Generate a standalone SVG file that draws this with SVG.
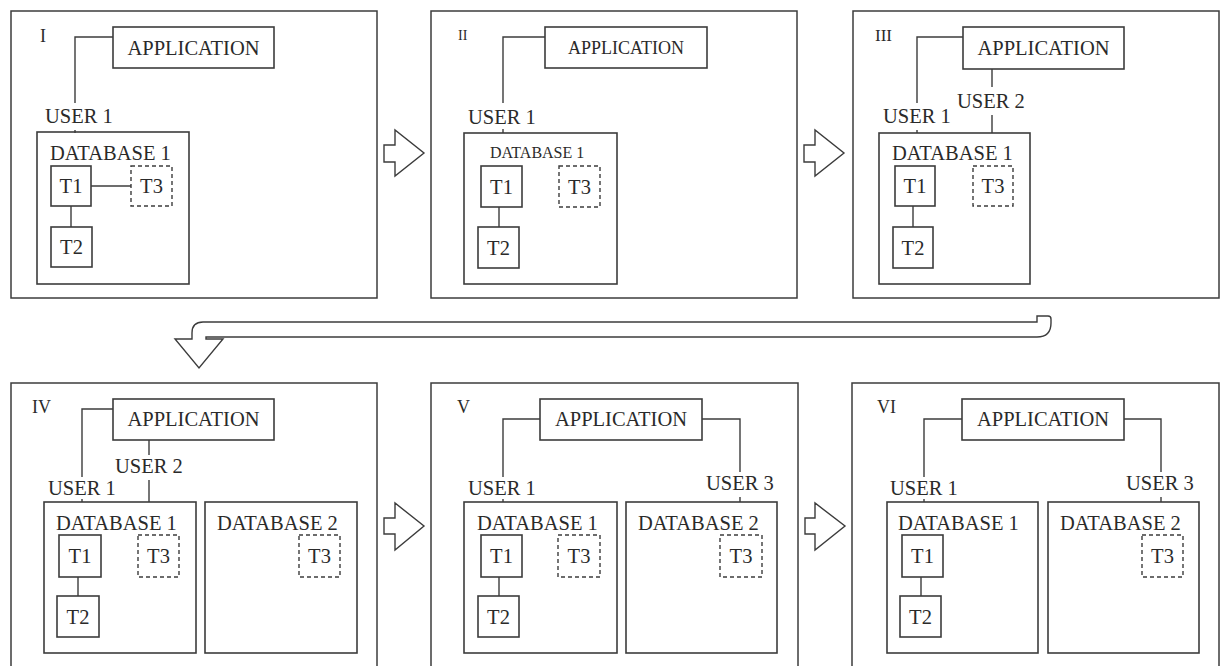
<svg xmlns="http://www.w3.org/2000/svg" width="1224" height="666" viewBox="0 0 1224 666">
  <style>
    .frame { fill: #fff; stroke: #3c3c3c; stroke-width: 1.5; }
    .box { fill: #fff; stroke: #3c3c3c; stroke-width: 1.6; }
    .dash { fill: #fff; stroke: #3c3c3c; stroke-width: 1.4; stroke-dasharray: 4 3; }
    .wire { fill: none; stroke: #3c3c3c; stroke-width: 1.4; }
    .arrow { fill: #fff; stroke: #3c3c3c; stroke-width: 1.4; stroke-linejoin: miter; }
    text { font-family: "Liberation Serif", "Times New Roman", serif; fill: #2a2a2a; font-size: 20.5px; }
    .num { font-size: 18px; }
    .mid { text-anchor: middle; }
  </style>
  <rect width="1224" height="666" fill="#fff"/>

  <!-- Stage I -->
  <g id="stage-1">
    <rect class="frame" x="11" y="11" width="366" height="287"/>
    <text class="num" x="40" y="42">I</text>
    <rect class="box" x="113" y="27" width="161" height="41"/>
    <text class="mid" x="193.5" y="55">APPLICATION</text>
    <text x="45" y="123">USER 1</text>
    <rect class="box" x="37" y="132" width="152" height="152"/>
    <text x="50" y="160">DATABASE 1</text>
    <rect class="box" x="51" y="166" width="40" height="40"/>
    <text class="mid" x="71" y="193">T1</text>
    <rect class="dash" x="131" y="166" width="41" height="40"/>
    <text class="mid" x="151.5" y="193">T3</text>
    <rect class="box" x="51" y="227" width="41" height="40"/>
    <text class="mid" x="71.5" y="254">T2</text>
  </g>

  <!-- Stage II -->
  <g id="stage-2">
    <rect class="frame" x="431" y="11" width="366" height="287"/>
    <text x="458" y="40" style="font-size:14px">II</text>
    <rect class="box" x="545" y="27" width="162" height="41"/>
    <text class="mid" x="626" y="54" style="font-size:18px">APPLICATION</text>
    <text x="468" y="124">USER 1</text>
    <rect class="box" x="464" y="133" width="153" height="151"/>
    <text x="490" y="158" style="font-size:16px">DATABASE 1</text>
    <rect class="box" x="481" y="166" width="41" height="41"/>
    <text class="mid" x="501.5" y="194">T1</text>
    <rect class="dash" x="559" y="166" width="41" height="41"/>
    <text class="mid" x="579.5" y="194">T3</text>
    <rect class="box" x="478" y="227" width="41" height="41"/>
    <text class="mid" x="498.5" y="255">T2</text>
  </g>

  <!-- Stage III -->
  <g id="stage-3">
    <rect class="frame" x="853" y="11" width="366" height="287"/>
    <text x="875" y="41" style="font-size:17px">III</text>
    <rect class="box" x="963" y="27" width="161" height="42"/>
    <text class="mid" x="1043.5" y="55">APPLICATION</text>
    <text x="883" y="123">USER 1</text>
    <text x="957" y="108">USER 2</text>
    <rect class="box" x="879" y="133" width="151" height="151"/>
    <text x="892" y="160">DATABASE 1</text>
    <rect class="box" x="895" y="166" width="40" height="40"/>
    <text class="mid" x="915" y="193">T1</text>
    <rect class="dash" x="973" y="166" width="40" height="40"/>
    <text class="mid" x="993" y="193">T3</text>
    <rect class="box" x="893" y="227" width="40" height="41"/>
    <text class="mid" x="913" y="255">T2</text>
  </g>

  <!-- Stage IV -->
  <g id="stage-4">
    <rect class="frame" x="11" y="383" width="366" height="300"/>
    <text class="num" x="32" y="413">IV</text>
    <rect class="box" x="113" y="399" width="161" height="41"/>
    <text class="mid" x="193.5" y="426">APPLICATION</text>
    <text x="48" y="495">USER 1</text>
    <text x="115" y="473">USER 2</text>
    <rect class="box" x="44" y="502" width="152" height="151"/>
    <text x="56" y="530">DATABASE 1</text>
    <rect class="box" x="59" y="535" width="42" height="42"/>
    <text class="mid" x="80" y="563">T1</text>
    <rect class="dash" x="138" y="535" width="41" height="42"/>
    <text class="mid" x="158.5" y="563">T3</text>
    <rect class="box" x="57" y="596" width="42" height="41"/>
    <text class="mid" x="78" y="624">T2</text>
    <rect class="box" x="205" y="502" width="152" height="151"/>
    <text x="217" y="530">DATABASE 2</text>
    <rect class="dash" x="299" y="535" width="41" height="42"/>
    <text class="mid" x="319.5" y="563">T3</text>
  </g>

  <!-- Stage V -->
  <g id="stage-5">
    <rect class="frame" x="431" y="383" width="367" height="300"/>
    <text class="num" x="457" y="413">V</text>
    <rect class="box" x="540" y="399" width="162" height="41"/>
    <text class="mid" x="621" y="426">APPLICATION</text>
    <text x="468" y="495">USER 1</text>
    <text x="706" y="490">USER 3</text>
    <rect class="box" x="464" y="502" width="153" height="151"/>
    <text x="477" y="530">DATABASE 1</text>
    <rect class="box" x="481" y="535" width="41" height="42"/>
    <text class="mid" x="501.5" y="563">T1</text>
    <rect class="dash" x="558" y="535" width="42" height="42"/>
    <text class="mid" x="579" y="563">T3</text>
    <rect class="box" x="478" y="596" width="41" height="41"/>
    <text class="mid" x="498.5" y="624">T2</text>
    <rect class="box" x="626" y="502" width="151" height="151"/>
    <text x="638" y="530">DATABASE 2</text>
    <rect class="dash" x="720" y="535" width="42" height="42"/>
    <text class="mid" x="741" y="563">T3</text>
  </g>

  <!-- Stage VI -->
  <g id="stage-6">
    <rect class="frame" x="852" y="383" width="367" height="300"/>
    <text class="num" x="877" y="413">VI</text>
    <rect class="box" x="962" y="399" width="162" height="41"/>
    <text class="mid" x="1043" y="426">APPLICATION</text>
    <text x="890" y="495">USER 1</text>
    <text x="1126" y="490">USER 3</text>
    <rect class="box" x="887" y="502" width="151" height="151"/>
    <text x="898" y="530">DATABASE 1</text>
    <rect class="box" x="902" y="535" width="41" height="42"/>
    <text class="mid" x="922.5" y="563">T1</text>
    <rect class="box" x="900" y="596" width="41" height="41"/>
    <text class="mid" x="920.5" y="624">T2</text>
    <rect class="box" x="1048" y="502" width="151" height="151"/>
    <text x="1060" y="530">DATABASE 2</text>
    <rect class="dash" x="1142" y="535" width="41" height="42"/>
    <text class="mid" x="1162.5" y="563">T3</text>
  </g>

  <!-- Links between applications, users, databases and tables -->
  <g id="connectors">
    <polyline class="wire" points="113,37 75,37 75,103"/>
    <line class="wire" x1="75" y1="130" x2="75" y2="133"/>
    <line class="wire" x1="91" y1="186" x2="131" y2="186"/>
    <line class="wire" x1="71" y1="206" x2="71" y2="227"/>

    <polyline class="wire" points="545,37 503,37 503,103"/>
    <line class="wire" x1="503" y1="129" x2="503" y2="133"/>
    <line class="wire" x1="499" y1="207" x2="499" y2="227"/>

    <polyline class="wire" points="963,37 917,37 917,103"/>
    <line class="wire" x1="917" y1="130" x2="917" y2="133"/>
    <line class="wire" x1="992" y1="69" x2="992" y2="87"/>
    <line class="wire" x1="992" y1="115" x2="992" y2="133"/>
    <line class="wire" x1="913" y1="206" x2="913" y2="227"/>

    <polyline class="wire" points="113,409 82,409 82,477"/>
    <line class="wire" x1="82" y1="499" x2="82" y2="502"/>
    <line class="wire" x1="149" y1="440" x2="149" y2="455"/>
    <line class="wire" x1="149" y1="480" x2="149" y2="502"/>
    <line class="wire" x1="78" y1="577" x2="78" y2="596"/>

    <polyline class="wire" points="540,419 503,419 503,477"/>
    <line class="wire" x1="503" y1="499" x2="503" y2="502"/>
    <polyline class="wire" points="702,419 740,419 740,472"/>
    <line class="wire" x1="740" y1="497" x2="740" y2="502"/>
    <line class="wire" x1="499" y1="577" x2="499" y2="596"/>

    <polyline class="wire" points="962,419 924,419 924,477"/>
    <line class="wire" x1="924" y1="499" x2="924" y2="502"/>
    <polyline class="wire" points="1124,419 1161,419 1161,472"/>
    <line class="wire" x1="1161" y1="497" x2="1161" y2="502"/>
    <line class="wire" x1="921" y1="577" x2="921" y2="596"/>
  </g>

  <!-- Step arrows between stages -->
  <g id="step-arrows">
    <polygon class="arrow" points="384,145 395,145 395,130 424,153 395,176 395,162 384,162"/>
    <polygon class="arrow" points="804,145 815,145 815,130 844,153 815,176 815,162 804,162"/>
    <polygon class="arrow" points="384,518 395,518 395,503 424,526 395,550 395,534 384,534"/>
    <polygon class="arrow" points="805,518 815,518 815,503 845,526 815,550 815,534 805,534"/>
    <path class="arrow" d="M1037,322 L1037,316 L1048,316 Q1051,316 1051,319 L1051,323 Q1051,337 1037,337 L206,337 L206,339 L223,339 L199,368 L175,339 L192,339 L192,333 Q192,322 203,322 Z"/>
  </g>
</svg>
